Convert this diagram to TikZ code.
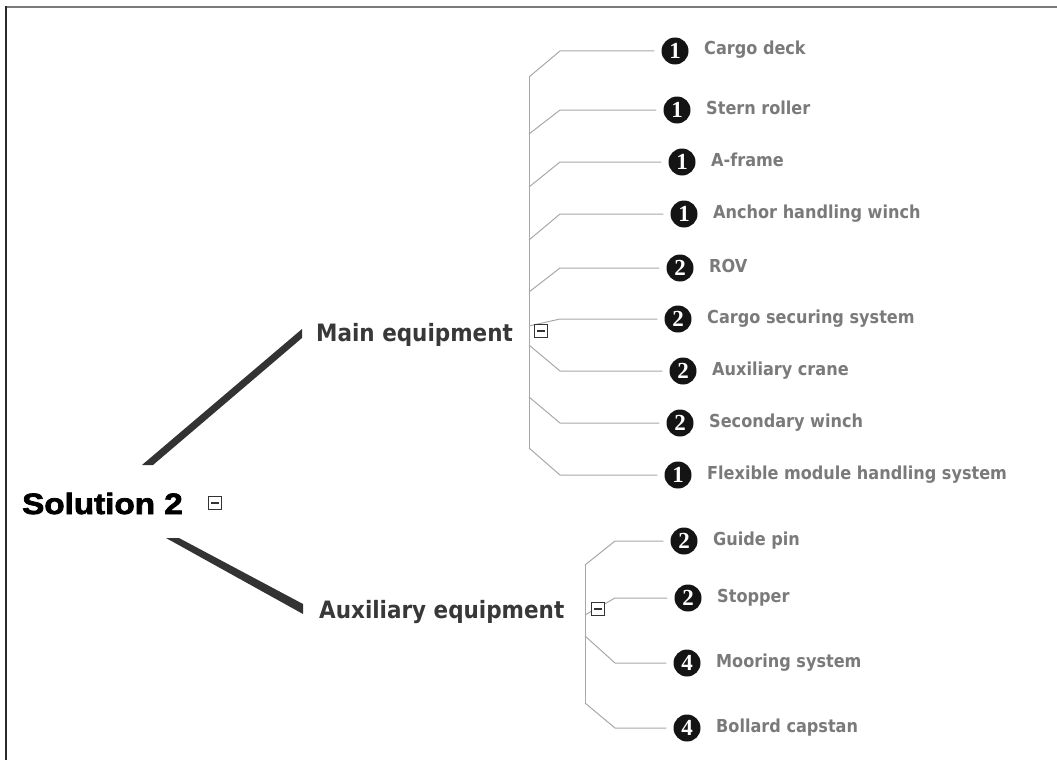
\documentclass[tikz,border=0pt]{standalone}
\usepackage{fontspec}
\newfontfamily\rootfont[FakeBold=2.5,FakeStretch=1.13]{Liberation Sans Bold}
\newfontfamily\labelfont{DejaVu Sans Condensed}
\newfontfamily\digitfont{Liberation Serif}
\definecolor{rootink}{HTML}{000000}
\definecolor{branchink}{HTML}{383838}
\definecolor{leafink}{HTML}{7A7A7A}
\definecolor{trunk}{HTML}{333333}
\definecolor{twig}{HTML}{A8A8A8}
\definecolor{badgefill}{HTML}{141414}
\definecolor{boxline}{HTML}{333333}
\definecolor{frametop}{HTML}{7A7A7A}
\definecolor{frameleft}{HTML}{2A2A2A}
\tikzset{
  rootlabel/.style={inner sep=0pt, text=rootink, font=\rootfont\fontsize{29.4}{30}\selectfont},
  branchlabel/.style={inner sep=0pt, text=branchink, font=\labelfont\bfseries\fontsize{23.9}{24}\selectfont},
  leaflabel/.style={inner sep=0pt, text=leafink, font=\labelfont\bfseries\fontsize{17.9}{18}\selectfont},
  badge/.style={circle, fill=badgefill, text=white, minimum size=27pt, inner sep=0pt,
    font=\digitfont\bfseries\fontsize{23}{23}\selectfont},
  twigline/.style={draw=twig, line width=1pt},
  trunkfill/.style={fill=trunk},
  minusbox/.style={draw=boxline, fill=white, line width=0.9pt, minimum size=13.5pt, inner sep=0pt,
    path picture={\draw[boxline, line width=1.1pt]
      ([xshift=3.2pt]path picture bounding box.west) -- ([xshift=-3.2pt]path picture bounding box.east);}},
}
\begin{document}
\begin{tikzpicture}[x=1pt, y=-1pt]
\useasboundingbox (0,0) rectangle (1057,760);

% frame edges
\draw[frametop, line width=2pt] (6,7) -- (1057,7);
\draw[frameleft, line width=2pt] (6,6) -- (6,760);

% root and the two branches
\node[rootlabel, anchor=base west] (root) at (22,514) {Solution 2};
\node[branchlabel, anchor=base west] (main) at (316,341) {Main equipment};
\node[branchlabel, anchor=base west] (aux) at (319,618) {Auxiliary equipment};

% heavy trunks from the root to the branches
\coordinate (tu1) at (142,465); \coordinate (tu2) at (153,465);
\coordinate (tu3) at (302,338); \coordinate (tu4) at (302,329);
\fill[trunkfill] (tu1) -- (tu2) -- (tu3) -- (tu4) -- cycle;
\coordinate (tl1) at (166,538); \coordinate (tl2) at (179,538);
\coordinate (tl3) at (303,604); \coordinate (tl4) at (303,614);
\fill[trunkfill] (tl1) -- (tl2) -- (tl3) -- (tl4) -- cycle;

% leaves: name / badge x / badge y / digit / spine x / spine y / bend x / text
\foreach \n/\cx/\cy/\d/\ox/\oy/\bx/\t in {
  m1/675/51/1/529/77/560/Cargo deck,
  m2/677/110/1/529/134/560/Stern roller,
  m3/682/162/1/529/187/560/A-frame,
  m4/684/214/1/529/240/560/Anchor handling winch,
  m5/680/268/2/529/292/560/ROV,
  m6/678/319/2/529/326/560/Cargo securing system,
  m7/683/371/2/529/345/560/Auxiliary crane,
  m8/680/423/2/529/397/560/Secondary winch,
  m9/678/475/1/529/448/560/Flexible module handling system,
  a1/684/541/2/585/565/615/Guide pin,
  a2/688/598/2/585/615/615/Stopper,
  a3/687/663/4/585/636/615/Mooring system,
  a4/687/728/4/585/703/615/Bollard capstan}{
  \coordinate (\n-o) at (\ox,\oy);
  \coordinate (\n-b) at (\bx,\cy);
  \node[badge] (\n) at (\cx,\cy) {\d};
  \node[leaflabel, anchor=base west] (\n-t) at (\cx+29,\cy+4) {\t};
  \draw[twigline] (\n-o) -- (\n-b) -- ([xshift=-7pt]\n.west);
}

% spines
\draw[twigline] (m1-o) -- (m9-o);
\draw[twigline] (a1-o) -- (a4-o);

% collapse boxes
\node[minusbox] (rootbox) at (215,503) {};
\node[minusbox] (mainbox) at (541,331) {};
\node[minusbox] (auxbox) at (598,609) {};
\end{tikzpicture}
\end{document}
